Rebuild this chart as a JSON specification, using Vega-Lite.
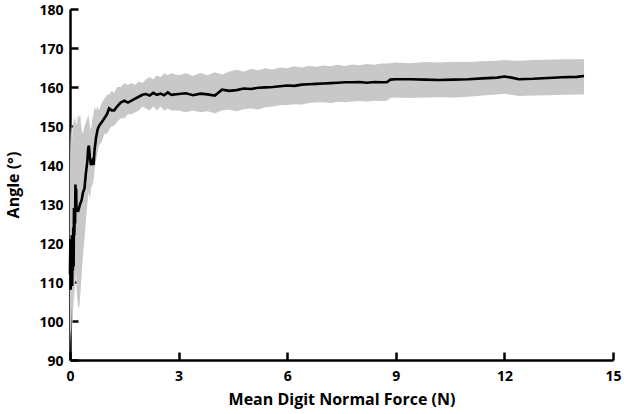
{
  "$schema": "https://vega.github.io/schema/vega-lite/v6.json",
  "autosize": "none",
  "width": 543,
  "height": 351,
  "padding": {"left": 70, "top": 9, "right": 11, "bottom": 54},
  "background": "white",
  "config": {
    "view": {"stroke": null},
    "axis": {
      "grid": false,
      "domainColor": "black",
      "domainWidth": 2.5,
      "ticks": true,
      "tickColor": "black",
      "tickWidth": 2.5,
      "tickSize": -8,
      "zindex": 1,
      "labelOverlap": false,
      "labelFlush": false,
      "labelBound": false,
      "labelFont": "Open Sans",
      "labelFontWeight": "bold",
      "labelFontSize": 14,
      "labelColor": "black",
      "titleFont": "Open Sans",
      "titleFontWeight": "bold",
      "titleFontSize": 16,
      "titleColor": "black"
    }
  },
  "data": {"values": [
    {"x": 0.00, "m": 112, "lo": 95, "hi": 140},
    {"x": 0.01, "m": 121, "lo": 98, "hi": 150},
    {"x": 0.02, "m": 108, "lo": 92, "hi": 145},
    {"x": 0.03, "m": 118, "lo": 100, "hi": 152},
    {"x": 0.04, "m": 110, "lo": 96, "hi": 148},
    {"x": 0.05, "m": 122, "lo": 104, "hi": 150},
    {"x": 0.06, "m": 109, "lo": 97, "hi": 146},
    {"x": 0.07, "m": 120, "lo": 101, "hi": 151},
    {"x": 0.08, "m": 113, "lo": 99, "hi": 149},
    {"x": 0.09, "m": 124, "lo": 106, "hi": 152},
    {"x": 0.10, "m": 114, "lo": 102, "hi": 150},
    {"x": 0.11, "m": 129, "lo": 108, "hi": 153},
    {"x": 0.12, "m": 122, "lo": 105, "hi": 151},
    {"x": 0.13, "m": 128, "lo": 110, "hi": 152},
    {"x": 0.14, "m": 125, "lo": 107, "hi": 150},
    {"x": 0.15, "m": 135, "lo": 112, "hi": 153},
    {"x": 0.16, "m": 130, "lo": 110, "hi": 151},
    {"x": 0.17, "m": 134, "lo": 113, "hi": 152},
    {"x": 0.18, "m": 128, "lo": 108, "hi": 150},
    {"x": 0.20, "m": 129, "lo": 106, "hi": 151},
    {"x": 0.22, "m": 128, "lo": 104, "hi": 153},
    {"x": 0.25, "m": 129, "lo": 103, "hi": 152},
    {"x": 0.28, "m": 130, "lo": 106, "hi": 153},
    {"x": 0.32, "m": 131, "lo": 112, "hi": 149},
    {"x": 0.36, "m": 133, "lo": 117, "hi": 148},
    {"x": 0.40, "m": 134, "lo": 121, "hi": 150},
    {"x": 0.44, "m": 138, "lo": 126, "hi": 151},
    {"x": 0.48, "m": 141, "lo": 130, "hi": 152},
    {"x": 0.50, "m": 144, "lo": 132, "hi": 153},
    {"x": 0.52, "m": 145, "lo": 133, "hi": 152},
    {"x": 0.55, "m": 142, "lo": 131, "hi": 150},
    {"x": 0.58, "m": 140, "lo": 134, "hi": 149},
    {"x": 0.62, "m": 141, "lo": 135, "hi": 152},
    {"x": 0.65, "m": 140, "lo": 136, "hi": 153},
    {"x": 0.68, "m": 144, "lo": 139, "hi": 155},
    {"x": 0.72, "m": 147, "lo": 141, "hi": 154},
    {"x": 0.76, "m": 149, "lo": 143, "hi": 155},
    {"x": 0.80, "m": 150, "lo": 145, "hi": 154},
    {"x": 0.88, "m": 151, "lo": 146, "hi": 156},
    {"x": 0.95, "m": 152, "lo": 148, "hi": 157},
    {"x": 1.02, "m": 153, "lo": 148, "hi": 158},
    {"x": 1.08, "m": 154.5, "lo": 149, "hi": 158},
    {"x": 1.15, "m": 154, "lo": 150, "hi": 159},
    {"x": 1.22, "m": 154, "lo": 150, "hi": 158.5},
    {"x": 1.30, "m": 155, "lo": 151, "hi": 160},
    {"x": 1.40, "m": 156, "lo": 152, "hi": 160},
    {"x": 1.50, "m": 156.5, "lo": 152, "hi": 161},
    {"x": 1.60, "m": 156, "lo": 153, "hi": 160.5},
    {"x": 1.70, "m": 156.5, "lo": 153, "hi": 161},
    {"x": 1.80, "m": 157, "lo": 153.5, "hi": 160.5},
    {"x": 1.90, "m": 157.5, "lo": 154, "hi": 161.5},
    {"x": 2.00, "m": 158, "lo": 155, "hi": 161},
    {"x": 2.10, "m": 158.2, "lo": 154.5, "hi": 162},
    {"x": 2.20, "m": 157.8, "lo": 154, "hi": 162.5},
    {"x": 2.30, "m": 158.5, "lo": 155, "hi": 162},
    {"x": 2.40, "m": 158, "lo": 154, "hi": 163},
    {"x": 2.50, "m": 158.3, "lo": 155, "hi": 162.5},
    {"x": 2.60, "m": 157.9, "lo": 154, "hi": 163.5},
    {"x": 2.70, "m": 158.6, "lo": 154.5, "hi": 163},
    {"x": 2.80, "m": 158, "lo": 154, "hi": 163.5},
    {"x": 3.00, "m": 158.2, "lo": 154, "hi": 163},
    {"x": 3.20, "m": 158.4, "lo": 153.5, "hi": 163.5},
    {"x": 3.40, "m": 157.9, "lo": 154, "hi": 162.8},
    {"x": 3.60, "m": 158.3, "lo": 153.5, "hi": 163.6},
    {"x": 3.80, "m": 158.1, "lo": 153.8, "hi": 163},
    {"x": 4.00, "m": 157.8, "lo": 153.3, "hi": 163.8},
    {"x": 4.20, "m": 159.3, "lo": 154, "hi": 163.2},
    {"x": 4.40, "m": 159, "lo": 154.2, "hi": 164},
    {"x": 4.60, "m": 159.2, "lo": 153.8, "hi": 164.4},
    {"x": 4.80, "m": 159.6, "lo": 154.3, "hi": 164},
    {"x": 5.00, "m": 159.5, "lo": 154.5, "hi": 164.6},
    {"x": 5.20, "m": 159.8, "lo": 154.2, "hi": 164.3},
    {"x": 5.40, "m": 159.9, "lo": 154.8, "hi": 164.8},
    {"x": 5.60, "m": 160, "lo": 155, "hi": 164.5},
    {"x": 5.80, "m": 160.2, "lo": 155.3, "hi": 165},
    {"x": 6.00, "m": 160.4, "lo": 155.4, "hi": 164.8},
    {"x": 6.20, "m": 160.3, "lo": 155.6, "hi": 165.3},
    {"x": 6.40, "m": 160.6, "lo": 155.5, "hi": 165},
    {"x": 6.60, "m": 160.7, "lo": 155.9, "hi": 165.4},
    {"x": 6.80, "m": 160.8, "lo": 156, "hi": 165.2},
    {"x": 7.00, "m": 160.9, "lo": 156.1, "hi": 165.5},
    {"x": 7.20, "m": 161, "lo": 155.9, "hi": 165.3},
    {"x": 7.40, "m": 161.1, "lo": 156.2, "hi": 165.7},
    {"x": 7.60, "m": 161.2, "lo": 156.1, "hi": 165.4},
    {"x": 7.80, "m": 161.2, "lo": 156.3, "hi": 165.8},
    {"x": 8.00, "m": 161.3, "lo": 156.4, "hi": 165.6},
    {"x": 8.20, "m": 161.1, "lo": 156.3, "hi": 165.9},
    {"x": 8.40, "m": 161.3, "lo": 156.5, "hi": 165.7},
    {"x": 8.60, "m": 161.2, "lo": 156.4, "hi": 166},
    {"x": 8.75, "m": 161.2, "lo": 156.5, "hi": 166},
    {"x": 8.85, "m": 161.9, "lo": 157.2, "hi": 166.1},
    {"x": 9.00, "m": 162, "lo": 157.3, "hi": 166.3},
    {"x": 9.40, "m": 162, "lo": 157.2, "hi": 166.1},
    {"x": 9.80, "m": 161.9, "lo": 157.3, "hi": 166.4},
    {"x": 10.20, "m": 161.8, "lo": 157.4, "hi": 166.3},
    {"x": 10.60, "m": 161.9, "lo": 157.3, "hi": 166.5},
    {"x": 11.00, "m": 162, "lo": 157.5, "hi": 166.4},
    {"x": 11.40, "m": 162.2, "lo": 157.8, "hi": 166.6},
    {"x": 11.80, "m": 162.4, "lo": 158.1, "hi": 166.7},
    {"x": 12.00, "m": 162.7, "lo": 158.3, "hi": 166.9},
    {"x": 12.20, "m": 162.4, "lo": 158.0, "hi": 166.8},
    {"x": 12.40, "m": 162.0, "lo": 157.7, "hi": 166.7},
    {"x": 12.80, "m": 162.1, "lo": 157.8, "hi": 166.9},
    {"x": 13.20, "m": 162.3, "lo": 157.9, "hi": 167},
    {"x": 13.60, "m": 162.5, "lo": 158, "hi": 167.1},
    {"x": 14.00, "m": 162.6, "lo": 158.1, "hi": 167.1},
    {"x": 14.20, "m": 162.8, "lo": 158.1, "hi": 167.2}
  ]},
  "encoding": {
    "x": {
      "field": "x", "type": "quantitative",
      "scale": {"domain": [0, 15], "nice": false, "zero": false},
      "axis": {"values": [0, 3, 6, 9, 12, 15], "title": "Mean Digit Normal Force (N)", "labelPadding": 17, "titlePadding": 8, "labelOverlap": false}
    },
    "y": {"field": "m", "type": "quantitative",
      "scale": {"domain": [90, 180], "nice": false, "zero": false},
      "axis": {"values": [90, 100, 110, 120, 130, 140, 150, 160, 170, 180], "title": "Angle (°)", "labelPadding": 15, "titlePadding": 17, "labelOverlap": false, "labelOffset": 1}}
  },
  "layer": [
    {
      "mark": {"type": "area", "color": "#c8c8c8", "opacity": 1},
      "encoding": {
        "y": {"field": "lo", "type": "quantitative", "title": "Angle (°)"},
        "y2": {"field": "hi"}
      }
    },
    {
      "mark": {"type": "line", "color": "black", "strokeWidth": 2.6}
    }
  ]
}
